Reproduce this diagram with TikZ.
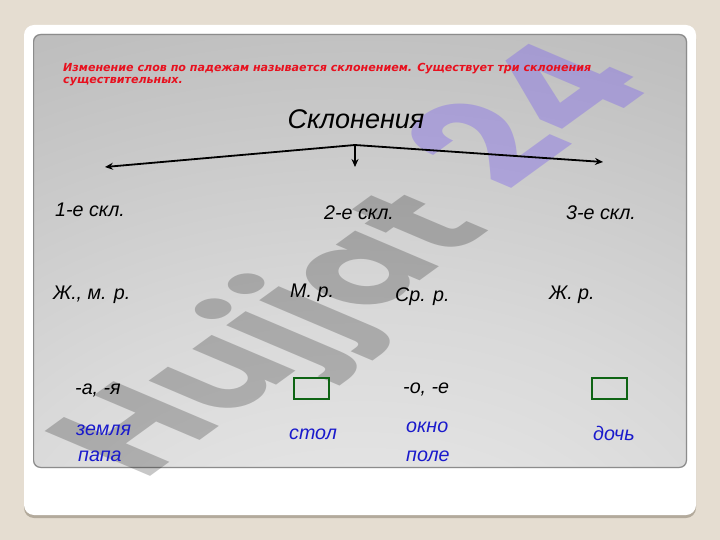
\documentclass[tikz,border=0pt]{standalone}
\usepackage{fontspec}
\setmainfont{Liberation Sans}
\newfontfamily\redfont{DejaVu Sans}
\newfontfamily\wmfont{Poppins}
\usetikzlibrary{arrows.meta}
\definecolor{bgbeige}{HTML}{E5DDD1}
\definecolor{shadowc}{HTML}{B3AA9C}
\definecolor{redtxt}{HTML}{E8101E}
\definecolor{bluetxt}{HTML}{1A1ACC}
\definecolor{greenbox}{HTML}{0E6414}
\definecolor{lav}{RGB}{125,100,235}
\pgfdeclareradialshading{panelshade}{\pgfpoint{0bp}{-48bp}}{%
  color(0bp)=(black!6); color(30bp)=(black!15); color(55bp)=(black!25);
  color(95bp)=(black!38); color(130bp)=(black!40)}
\tikzset{
  lbl/.style={anchor=base west, inner sep=0pt, font=\fontsize{19.7}{21}\selectfont\itshape, text=black},
  word/.style={lbl, text=bluetxt},
  intro/.style={anchor=base west, inner sep=0pt, text=redtxt,
    font=\redfont\bfseries\itshape\fontsize{11.1}{12}\selectfont},
  gbox/.style={draw=greenbox, line width=2.6pt, minimum width=35pt, minimum height=21pt, inner sep=0pt},
  branch/.style={line width=1.8pt, -{Stealth[length=8pt,width=7pt]}},
  wm/.style={font=\wmfont\bfseries\fontsize{140}{140}\selectfont, rotate=36, xslant=-0.6,
    inner sep=0pt},
}
\begin{document}
\begin{tikzpicture}[x=1pt,y=-1pt]
\useasboundingbox (0,0) rectangle (720,540);
\fill[bgbeige] (0,0) rectangle (720,540);
% card with shadow
\fill[shadowc, rounded corners=10pt] (24,29) rectangle (696,518);
\fill[white, rounded corners=10pt] (24,25) rectangle (696,515);
% panel
\shade[shading=panelshade, rounded corners=7pt] (33,34) rectangle (687,468);
\draw[black!45, line width=1.2pt, rounded corners=7pt] (33.6,34.6) rectangle (686.4,467.4);
% watermark
\node[wm, text=black, text opacity=0.22] (wm1) at (278,338) {Hujjat};
\node[wm, text=lav, text opacity=0.4, font=\wmfont\bfseries\fontsize{150}{150}\selectfont] (wm2) at (524,112) {24};
% heading text
\node[intro] (intro1) at (63,72) {Изменение слов по падежам называется склонением. Существует три склонения};
\node[intro] (intro2) at (63,84) {существительных.};
\node[anchor=base, inner sep=0pt, font=\fontsize{27}{30}\selectfont\itshape] (title) at (356,129) {Склонения};
% arrows
\coordinate (apex) at (355,145);
\coordinate (lend) at (105,167);
\coordinate (rend) at (603,162);
\coordinate (dend) at (355,167);
\draw[branch] (apex) -- (lend);
\draw[branch] (apex) -- (rend);
\draw[branch] (apex) -- (dend);
% declensions
\node[lbl] (d1) at (55,217) {1-е скл.};
\node[lbl] (d2) at (324,220) {2-е скл.};
\node[lbl] (d3) at (566,220) {3-е скл.};
% genders
\node[lbl] (g1) at (53,299) {Ж., м. р.};
\node[lbl] (g2) at (290,297) {М. р.};
\node[lbl] (g3) at (395,301) {Ср. р.};
\node[lbl] (g4) at (549,299) {Ж. р.};
% endings
\node[lbl] (e1) at (75,394) {-а, -я};
\node[gbox] (b1) at (311.5,388.5) {};
\node[lbl] (e2) at (403,393) {-о, -е};
\node[gbox] (b2) at (609.5,388.5) {};
% examples
\node[word] (w1) at (76,435) {земля};
\node[word] (w2) at (78,461) {папа};
\node[word] (w3) at (289,439) {стол};
\node[word] (w4) at (406,432) {окно};
\node[word] (w5) at (406,461) {поле};
\node[word] (w6) at (593,440) {дочь};
\end{tikzpicture}
\end{document}
